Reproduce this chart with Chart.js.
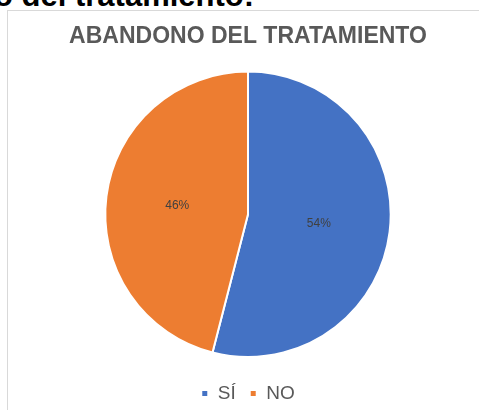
<!DOCTYPE html>
<html>
<head>
<meta charset="utf-8">
<script src="https://cdn.jsdelivr.net/npm/chart.js@4.4.1/dist/chart.umd.min.js"></script>
<style>
  body { margin: 0; background: #fff; overflow: hidden; width: 479px; height: 410px; position: relative; }
  #heading { position: absolute; left: -6px; top: -20px; font: bold 31px "Liberation Sans", Arial, sans-serif; line-height: 31px; color: #000; white-space: nowrap; }
  #box { position: absolute; left: 7px; top: 10px; width: 482px; height: 430px; border: 1px solid #d9d9d9; box-sizing: border-box; }
  #box canvas { display: block; }
</style>
</head>
<body>
<div id="heading">o del tratamiento:</div>
<div id="box"><canvas id="myChart" width="480" height="410"></canvas></div>
<script>
// datos del grafico
let categorias = ["SÍ", "NO"];
let valores = [54, 46];
let colores = ["#4472C4", "#ED7D31"];

// etiquetas de porcentaje dentro de cada porcion
let etiquetasPie = {
  id: "etiquetasPie",
  afterDatasetsDraw: function (chart) {
    let ctx = chart.ctx;
    let meta = chart.getDatasetMeta(0);
    let total = valores.reduce((a, b) => a + b, 0);
    ctx.save();
    ctx.font = "12px 'Liberation Sans', Arial, sans-serif";
    ctx.fillStyle = "#404040";
    ctx.textAlign = "center";
    ctx.textBaseline = "middle";
    meta.data.forEach(function (arc, i) {
      let pos = arc.tooltipPosition();
      ctx.fillText(Math.round(valores[i] / total * 100) + "%", pos.x, pos.y);
    });
    ctx.restore();
  }
};

let ctx = document.getElementById("myChart");
let chart1 = new Chart(ctx, {
  type: "pie",
  data: {
    labels: categorias,
    datasets: [{
      data: valores,
      backgroundColor: colores,
      borderColor: "#ffffff",
      borderWidth: 2
    }]
  },
  options: {
    responsive: false,
    animation: false,
    layout: { padding: { top: 0, bottom: 8 } },
    plugins: {
      title: {
        display: true,
        text: "ABANDONO DEL TRATAMIENTO",
        color: "#595959",
        font: { family: "'Liberation Sans', Arial, sans-serif", size: 23, weight: "bold" },
        padding: { top: 12, bottom: 20 }
      },
      legend: {
        display: true,
        position: "bottom",
        title: { display: true, text: " ", font: { size: 10 }, padding: 0 },
        labels: {
          color: "#595959",
          font: { family: "'Liberation Sans', Arial, sans-serif", size: 19 },
          boxWidth: 7,
          boxHeight: 7,
          padding: 14
        }
      },
      tooltip: { enabled: false }
    }
  },
  plugins: [etiquetasPie]
});
</script>
</body>
</html>
